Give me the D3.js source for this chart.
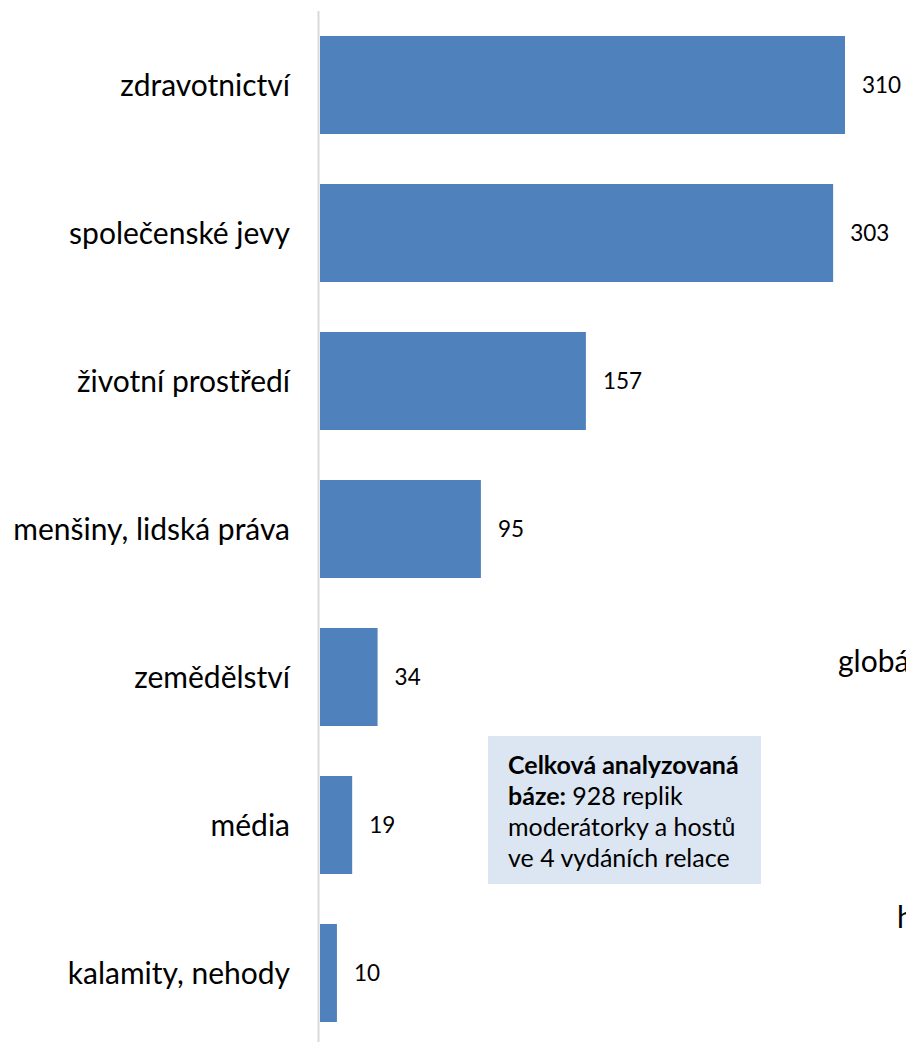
<!DOCTYPE html>
<html><head><meta charset="utf-8">
<script src="https://cdn.jsdelivr.net/npm/d3@7"></script>
<style>body{margin:0;background:#fff}svg{display:block}</style>
</head><body>
<script>
const categories = ["zdravotnictví","společenské jevy","životní prostředí","menšiny, lidská práva","zemědělství","média","kalamity, nehody"];
const values = [310,303,157,95,34,19,10];
const cutLabels = ["globá","h"];
const noteBold = ["Celková analyzovaná","báze:"];
const noteLines = [" 928 replik","moderátorky a hostů","ve 4 vydáních relace"];

const W=906,H=1042;
const svg=d3.select("body").append("svg").attr("width",W).attr("height",H);
const font="Lato, 'Open Sans', sans-serif";
const x=d3.scaleLinear().domain([0,310]).range([320,845]);
const y=d3.scaleBand().domain(categories).range([11,1047]).paddingInner(0.338).paddingOuter(0.169);

svg.append("line").attr("x1",318.5).attr("x2",318.5).attr("y1",11).attr("y2",1042).attr("stroke","#d9d9d9").attr("stroke-width",2);

svg.selectAll("rect.bar").data(values).join("rect").attr("class","bar")
 .attr("x",x(0)).attr("y",(d,i)=>y(categories[i])).attr("width",d=>x(d)-x(0)).attr("height",y.bandwidth()).attr("fill","#4f81bd");

svg.selectAll("text.cat").data(categories).join("text").attr("class","cat")
 .attr("x",290).attr("y",d=>y(d)+y.bandwidth()/2).attr("dy","0.35em").attr("text-anchor","end")
 .attr("font-family",font).attr("font-size",30).attr("fill","#000").text(d=>d);

svg.selectAll("text.val").data(values).join("text").attr("class","val")
 .attr("x",d=>x(d)+17).attr("y",(d,i)=>y(categories[i])+y.bandwidth()/2).attr("dy","0.35em")
 .attr("font-family",font).attr("font-size",22.5).attr("fill","#000").text(d=>d);

svg.append("text").attr("x",838).attr("y",672).attr("font-family",font).attr("font-size",30).text(cutLabels[0]);
svg.append("text").attr("x",897).attr("y",928).attr("font-family",font).attr("font-size",30).text(cutLabels[1]);

svg.append("rect").attr("x",488).attr("y",736).attr("width",273).attr("height",148).attr("fill","#dce6f2");
const lh=31, tx=508, ty=774, fs=25;
svg.append("text").attr("x",tx).attr("y",ty).attr("font-family",font).attr("font-size",fs).attr("font-weight","bold").text(noteBold[0]);
const t2=svg.append("text").attr("x",tx).attr("y",ty+lh).attr("font-family",font).attr("font-size",fs);
t2.append("tspan").attr("font-weight","bold").text(noteBold[1]);
t2.append("tspan").text(noteLines[0]);
svg.append("text").attr("x",tx).attr("y",ty+2*lh).attr("font-family",font).attr("font-size",fs).text(noteLines[1]);
svg.append("text").attr("x",tx).attr("y",ty+3*lh).attr("font-family",font).attr("font-size",fs).text(noteLines[2]);
</script>
</body></html>
